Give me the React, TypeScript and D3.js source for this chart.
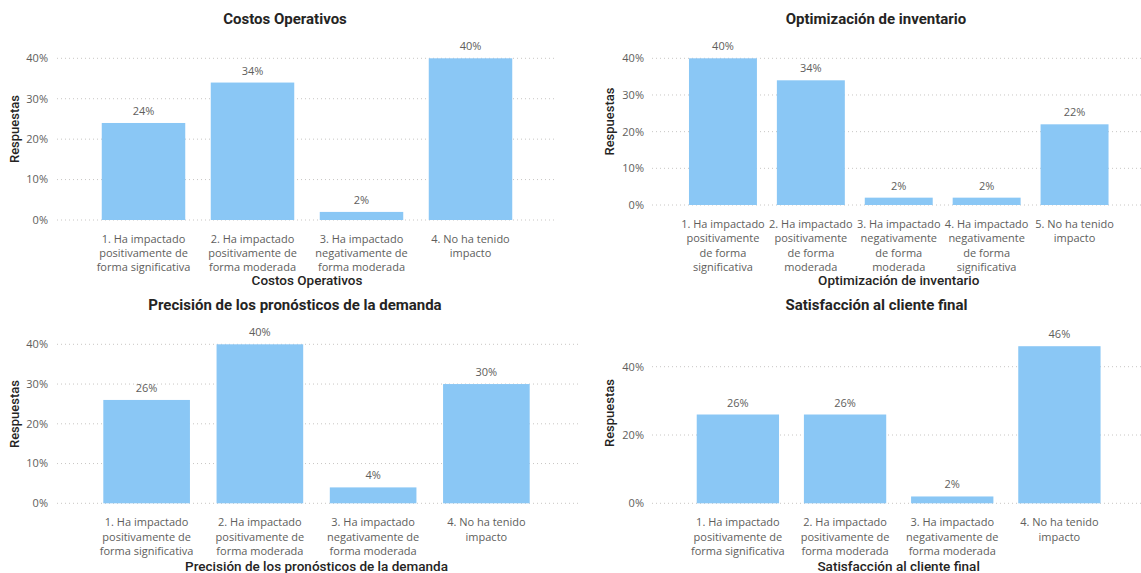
import React from "react";
import * as d3 from "d3";

// ---------- DATA ----------
const catsFour: string[][] = [
  ["1. Ha impactado", "positivamente de", "forma significativa"],
  ["2. Ha impactado", "positivamente de", "forma moderada"],
  ["3. Ha impactado", "negativamente de", "forma moderada"],
  ["4. No ha tenido", "impacto"],
];
const catsFive: string[][] = [
  ["1. Ha impactado", "positivamente", "de forma", "significativa"],
  ["2. Ha impactado", "positivamente", "de forma", "moderada"],
  ["3. Ha impactado", "negativamente", "de forma", "moderada"],
  ["4. Ha impactado", "negativamente", "de forma", "significativa"],
  ["5. No ha tenido", "impacto"],
];
const costosValues = [24, 34, 2, 40];
const inventarioValues = [40, 34, 2, 2, 22];
const pronosticosValues = [26, 40, 4, 30];
const satisfaccionValues = [26, 26, 2, 46];
const ticksTen = [0, 10, 20, 30, 40];
const ticksTwenty = [0, 20, 40];
const titles = [
  "Costos Operativos",
  "Optimización de inventario",
  "Precisión de los pronósticos de la demanda",
  "Satisfacción al cliente final",
];
const yAxisTitle = "Respuestas";

// ---------- LAYOUT ----------
type Layout = {
  title: string;
  cats: string[][];
  values: number[];
  ticks: number[];
  band: [number, number];
  pad: number;
  y0: number;
  y40: number;
  gridX: [number, number];
  tickX: number;
  titleX: number;
  titleY: number;
  yTitleX: number;
  yTitleY: number;
  catY: number;
  catLH: number;
  xTitleY: number;
};

const panels: Layout[] = [
  {
    title: titles[0], cats: catsFour, values: costosValues, ticks: ticksTen,
    band: [89, 525], pad: 0.234, y0: 220, y40: 58.3, gridX: [57, 555], tickX: 48,
    titleX: 285, titleY: 24, yTitleX: 19, yTitleY: 129, catY: 243, catLH: 14, xTitleY: 285,
  },
  {
    title: titles[1], cats: catsFive, values: inventarioValues, ticks: ticksTen,
    band: [679, 1118.5], pad: 0.227, y0: 205, y40: 58.3, gridX: [652, 1141], tickX: 644,
    titleX: 876, titleY: 24, yTitleX: 614, yTitleY: 121.5, catY: 228, catLH: 14.4, xTitleY: 285,
  },
  {
    title: titles[2], cats: catsFour, values: pronosticosValues, ticks: ticksTen,
    band: [90, 543], pad: 0.235, y0: 503.3, y40: 344.3, gridX: [57, 578], tickX: 48,
    titleX: 295, titleY: 310, yTitleX: 19, yTitleY: 414, catY: 526, catLH: 14.5, xTitleY: 571,
  },
  {
    title: titles[3], cats: catsFour, values: satisfaccionValues, ticks: ticksTwenty,
    band: [684.3, 1113], pad: 0.232, y0: 503.3, y40: 366.7, gridX: [652, 1141], tickX: 644,
    titleX: 876.5, titleY: 310, yTitleX: 614, yTitleY: 413, catY: 526, catLH: 14.5, xTitleY: 571,
  },
];

const BAR = "#8AC7F5";
const LABEL = "#605E5C";
const DARK = "#252423";
const GRID = "#C8C6C4";
const LABEL_FONT = "'Open Sans', 'Noto Sans', sans-serif";
const TITLE_FONT = "Roboto, 'Noto Sans', sans-serif";

function Panel({ p }: { p: Layout }) {
  const x = d3
    .scaleBand<number>()
    .domain(d3.range(p.values.length))
    .range(p.band)
    .paddingInner(p.pad)
    .paddingOuter(p.pad / 2);
  const y = d3.scaleLinear().domain([0, 40]).range([p.y0, p.y40]);
  const fmt = (v: number) => `${v}%`;
  const cx = (p.band[0] + p.band[1]) / 2;
  return (
    <g>
      <text x={p.titleX} y={p.titleY} textAnchor="middle" fontFamily={TITLE_FONT}
        fontWeight={700} fontSize={15} fill={DARK}>{p.title}</text>
      {p.ticks.map((t) => (
        <g key={t}>
          <line x1={p.gridX[0]} x2={p.gridX[1]} y1={y(t)} y2={y(t)} stroke={GRID}
            strokeWidth={1} strokeDasharray="1,3" />
          <text x={p.tickX} y={y(t)} dy="0.35em" textAnchor="end" fontFamily={LABEL_FONT}
            fontSize={11} fill={LABEL}>{fmt(t)}</text>
        </g>
      ))}
      <text transform={`translate(${p.yTitleX},${p.yTitleY}) rotate(-90)`} textAnchor="middle"
        fontFamily={TITLE_FONT} fontWeight={500} fontSize={13} fill={DARK}>{yAxisTitle}</text>
      {p.values.map((v, i) => (
        <g key={i}>
          <rect x={x(i)} y={y(v)} width={x.bandwidth()} height={y(0) - y(v)} fill={BAR} />
          <text x={(x(i) as number) + x.bandwidth() / 2} y={y(v) - 8} textAnchor="middle"
            fontFamily={LABEL_FONT} fontSize={11} fill={LABEL}>{fmt(v)}</text>
          {p.cats[i].map((line, j) => (
            <text key={j} x={(x(i) as number) + x.bandwidth() / 2} y={p.catY + j * p.catLH}
              textAnchor="middle" fontFamily={LABEL_FONT} fontSize={11} fill={LABEL}>{line}</text>
          ))}
        </g>
      ))}
      <text x={cx} y={p.xTitleY} textAnchor="middle" fontFamily={TITLE_FONT} fontWeight={500}
        fontSize={13.5} fill={DARK}>{p.title}</text>
    </g>
  );
}

export default function App() {
  return (
    <svg width={1141} height={573} style={{ position: "absolute", left: 0, top: 0, background: "#fff" }}>
      <rect width={1141} height={573} fill="#fff" />
      {panels.map((p, i) => (
        <Panel key={i} p={p} />
      ))}
    </svg>
  );
}
